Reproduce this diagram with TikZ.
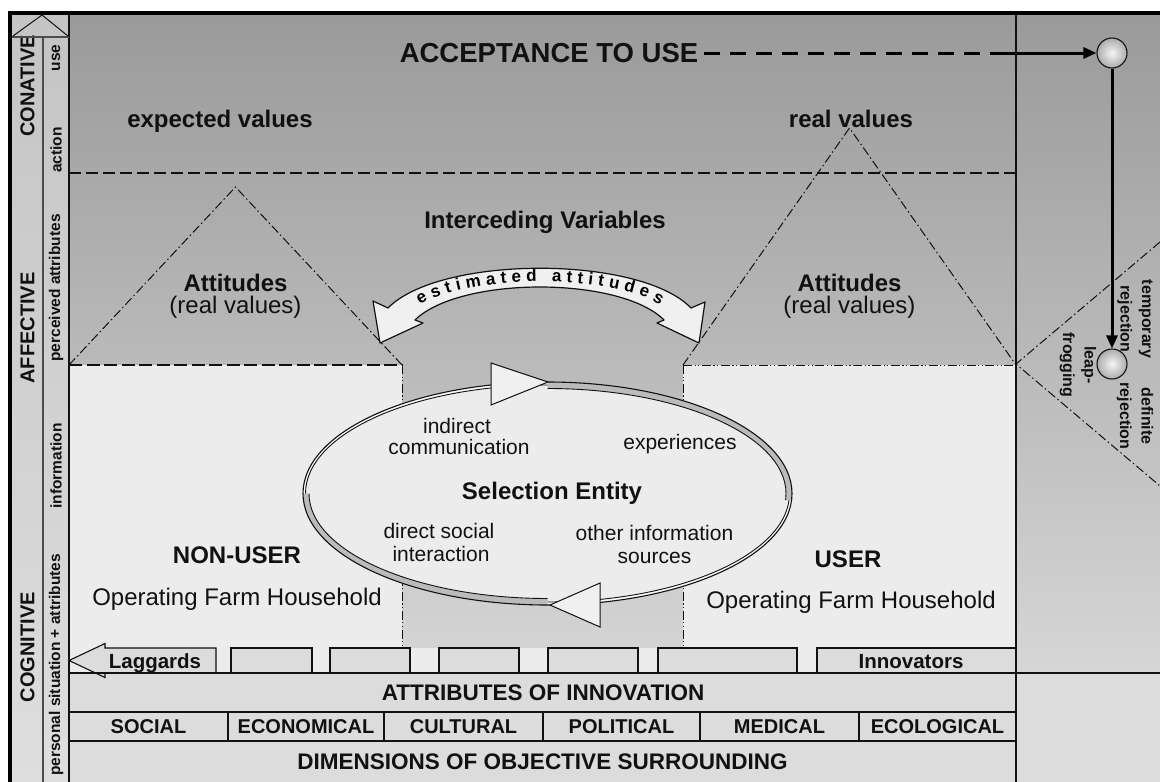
\documentclass[tikz,border=0pt]{standalone}
\usepackage{fontspec}
\setmainfont{Liberation Sans}
\usetikzlibrary{arrows.meta,decorations.text}
\definecolor{topg}{HTML}{9A9A9A}
\definecolor{botg}{HTML}{D6D6D6}
\definecolor{lightbg}{HTML}{ECECEC}
\definecolor{rowbg}{HTML}{DCDCDC}
\definecolor{colt}{HTML}{C4C4C4}
\definecolor{colb}{HTML}{DEDEDE}
\definecolor{ringg}{HTML}{BBBBBB}
\definecolor{arrf}{HTML}{F0F0F0}
\definecolor{ink}{HTML}{111111}
\begin{document}
\begin{tikzpicture}[x=1pt,y=-1pt,
  txt/.style={inner sep=0pt, text=ink},
  tBig/.style={txt, font=\fontsize{27.5}{30}\selectfont\bfseries},
  tA/.style={txt, font=\fontsize{24}{28}\selectfont\bfseries},
  tAr/.style={txt, font=\fontsize{24}{28}\selectfont},
  tE/.style={txt, font=\fontsize{21}{24}\selectfont},
  tCol/.style={txt, font=\fontsize{20}{22}\selectfont\bfseries, rotate=90},
  tSub/.style={txt, font=\fontsize{15.5}{18}\selectfont\bfseries, rotate=90},
  tRej/.style={txt, font=\fontsize{16}{21.5}\selectfont\bfseries, rotate=-90, align=center},
  tRow/.style={txt, font=\fontsize{22.5}{26}\selectfont\bfseries},
  tCell/.style={txt, font=\fontsize{20}{24}\selectfont\bfseries},
  tBox/.style={txt, font=\fontsize{20.5}{24}\selectfont\bfseries},
  dashdot/.style={dash pattern=on 9pt off 3pt on 1.5pt off 3pt, line width=1pt, draw=ink},
  dashdotdot/.style={dash pattern=on 9pt off 2.5pt on 1.2pt off 2.5pt on 1.2pt off 2.5pt, line width=0.9pt, draw=ink},
  longdash/.style={dash pattern=on 13pt off 4.5pt, line width=1.3pt, draw=ink},
  hdash/.style={dash pattern=on 12pt off 5pt, line width=1.2pt, draw=ink},
  cellbox/.style={draw=ink, line width=1.1pt, fill=rowbg},
  ball/.style={circle, draw=ink, line width=1.1pt, minimum size=30pt, inner sep=0pt, inner color=white!92!gray, outer color=gray!65},
  bigarrow/.style={-{Triangle[length=13pt,width=11pt]}, line width=3pt, draw=black},
]
\useasboundingbox (0,0) rectangle (1160,782);
\fill[white] (0,0) rectangle (1160,782);
% backgrounds
\shade[top color=topg,bottom color=botg] (69,13) rectangle (1160,673);
\fill[lightbg] (69,365) rectangle (402,673);
\fill[lightbg] (683,365) rectangle (1016,673);
\fill[lightbg] (402,648) rectangle (683,673);
\fill[rowbg] (69,673) rectangle (1160,782);
\shade[top color=colt,bottom color=colb] (12,13) rectangle (69,782);

% horizontal dashed line
\coordinate (hl1) at (69,173);
\coordinate (hr1) at (1016,173);
\draw[hdash] (hl1) -- (hr1);

% triangles
\coordinate (lt1) at (69,365);
\coordinate (lt2) at (235.5,187);
\coordinate (lt3) at (402,365);
\draw[dashdot] (lt1) -- (lt2) -- (lt3);
\draw[longdash] (lt1) -- (lt3);
\coordinate (rt1) at (683,365);
\coordinate (rt2) at (849.5,128);
\coordinate (rt3) at (1016,365);
\draw[dashdot] (rt1) -- (rt2) -- (rt3);
\draw[dashdotdot] (rt1) -- (rt3);
\coordinate (v1b) at (402,648);
\coordinate (v2b) at (683,648);
\draw[dashdotdot] (lt3) -- (v1b);
\draw[dashdotdot] (rt1) -- (v2b);
% right panel diagonals
\coordinate (d0) at (1016,364);
\coordinate (d1) at (1160,242);
\coordinate (d2) at (1160,486);
\draw[dashdot] (d1) -- (d0) -- (d2);

% selection entity ellipse ring
\coordinate (ec) at (547.5,493.5);
\fill[lightbg] (ec) ellipse [x radius=244.5pt, y radius=111.5pt];
\begin{scope}
  \clip (547.5,370) rectangle (800,500) (290,493.5) rectangle (547.5,620);
  \fill[ringg, even odd rule] (ec) ellipse [x radius=244.5pt, y radius=111.5pt] (ec) ellipse [x radius=238.5pt, y radius=105pt];
  \draw[line width=0.9pt, ink] (ec) ellipse [x radius=238.5pt, y radius=105pt];
\end{scope}
\begin{scope}
  \clip (290,370) rectangle (547.5,493.5) (547.5,500) rectangle (800,620);
  \fill[white!96!gray, even odd rule] (ec) ellipse [x radius=244.5pt, y radius=111.5pt] (ec) ellipse [x radius=242pt, y radius=108.5pt];
  \draw[line width=0.9pt, ink] (ec) ellipse [x radius=242pt, y radius=108.5pt];
\end{scope}
\draw[line width=1.1pt, ink] (ec) ellipse [x radius=244.5pt, y radius=111.5pt];
\draw[line width=1pt, ink, fill=arrf] (491,363) -- (548,382) -- (491,405) -- cycle;
\draw[line width=1pt, ink, fill=arrf] (600,583) -- (550,605) -- (600,627) -- cycle;

% estimated attitudes arrow
\draw[line width=1.2pt, ink, fill=arrf, line join=round]
  (380,343) -- (373,301) -- (388,308) .. controls (440,255) and (640,255) .. (691,308)
  -- (705,302) -- (699,343) -- (657,323) -- (664,320)
  .. controls (620,276) and (460,276) .. (415,320) -- (423,323) -- cycle;
\path[decorate, decoration={text along path,
   text={|\fontsize{17}{17}\selectfont\bfseries|estimated attitudes},
   text align={fit to path}}]
  (420,305) .. controls (467,274) and (613,274) .. (660,305);

% texts
\node[tBig] (acc) at (549,53) {ACCEPTANCE TO USE};
\node[tA, anchor=base] (expv) at (220,127.5) {expected values};
\node[tA, anchor=base] (realv) at (851,127.5) {real values};
\node[tA, anchor=base] (intv) at (545,228.5) {Interceding Variables};
\node[tA, anchor=base] (attl) at (235.5,291) {Attitudes};
\node[tAr, anchor=base] (attlr) at (235.5,313) {(real values)};
\node[tA, anchor=base] (attrt) at (849.5,291) {Attitudes};
\node[tAr, anchor=base] (attrr) at (849.5,313) {(real values)};
\node[tA, anchor=base] (nonuser) at (237,563) {NON-USER};
\node[tAr, anchor=base] (ofh1) at (237,605) {Operating Farm Household};
\node[tA, anchor=base] (user) at (848,567) {USER};
\node[tAr, anchor=base] (ofh2) at (851,608) {Operating Farm Household};
\node[tA, anchor=base] (sel) at (552,499) {Selection Entity};
\node[tE, anchor=base] (ind1) at (457,433) {indirect};
\node[tE, anchor=base] (ind2) at (459,454) {communication};
\node[tE, anchor=base] (expr) at (680,449) {experiences};
\node[tE, anchor=base] (dsi1) at (439,538) {direct social};
\node[tE, anchor=base] (dsi2) at (441,561) {interaction};
\node[tE, anchor=base] (oth1) at (654.5,540) {other information};
\node[tE, anchor=base] (oth2) at (654.5,563) {sources};

% left columns
\node[tCol] (con) at (27.5,86) {CONATIVE};
\node[tCol] (aff) at (27.5,328) {AFFECTIVE};
\node[tCol] (cog) at (27.5,647) {COGNITIVE};
\node[tSub] (use) at (56,58) {use};
\node[tSub] (act) at (56,150) {action};
\node[tSub] (per) at (56,288) {perceived attributes};
\node[tSub] (inf) at (56,466) {information};
\node[tSub] (pers) at (56,665) {personal situation + attributes};

% right panel
\node[tRej] (tmp) at (1135,319) {temporary\\rejection};
\node[tRej] (def) at (1135,416) {definite\\rejection};
\node[tRej] (leap) at (1078,365) {leap-\\frogging};
\node[ball] (c1) at (1112,53) {};
\node[ball] (c2) at (1112,364) {};
\coordinate (j1) at (1005,53);
\draw[line width=3pt, draw=black, dash pattern=on 16pt off 10pt, shorten <=6pt] (acc) -- (j1);
\draw[bigarrow] (j1) -- (c1);
\draw[bigarrow] (c1) -- (c2);

% innovation boxes
\draw[cellbox] (69,660.5) -- (105,643.5) -- (105,648) -- (216,648) -- (216,673) -- (105,673) -- (105,677.5) -- cycle;
\draw[cellbox] (231,648) rectangle (312,673);
\draw[cellbox] (330,648) rectangle (410,673);
\draw[cellbox] (439,648) rectangle (519,673);
\draw[cellbox] (548,648) rectangle (638,673);
\draw[cellbox] (658,648) rectangle (797,673);
\draw[cellbox] (817,648) rectangle (1016,673);
\node[tBox, anchor=base] (lag) at (155,668) {Laggards};
\node[tBox, anchor=base] (inn) at (911,668) {Innovators};

% rows
\draw[line width=2pt, ink] (69,673) -- (1160,673);
\draw[line width=1.3pt, ink] (69,712) -- (1016,712);
\draw[line width=1.8pt, ink] (69,741) -- (1016,741);
\foreach \x in {228,384,543,700,859} \draw[line width=1.1pt, ink] (\x,712) -- (\x,741);
\node[tRow] (attinn) at (543,692.5) {ATTRIBUTES OF INNOVATION};
\node[tCell] (soc) at (148.5,726.5) {SOCIAL};
\node[tCell] (eco) at (306,726.5) {ECONOMICAL};
\node[tCell] (cul) at (463.5,726.5) {CULTURAL};
\node[tCell] (pol) at (621.5,726.5) {POLITICAL};
\node[tCell] (med) at (779.5,726.5) {MEDICAL};
\node[tCell] (ecl) at (937.5,726.5) {ECOLOGICAL};
\node[tRow] (dims) at (542.5,762) {DIMENSIONS OF OBJECTIVE SURROUNDING};

% frame lines
\draw[line width=1.5pt, ink] (69,13) -- (69,782);
\draw[line width=1.5pt, ink] (1016,13) -- (1016,782);
\draw[line width=1.2pt, black!70] (43,37) -- (43,782);
\draw[line width=1.2pt, black!70] (12,37) -- (69,37);
\draw[line width=1pt, ink] (13,36) -- (42,15) -- (68,36);
\draw[line width=4pt, black] (10,782) -- (10,13) -- (1160,13);
\end{tikzpicture}
\end{document}
